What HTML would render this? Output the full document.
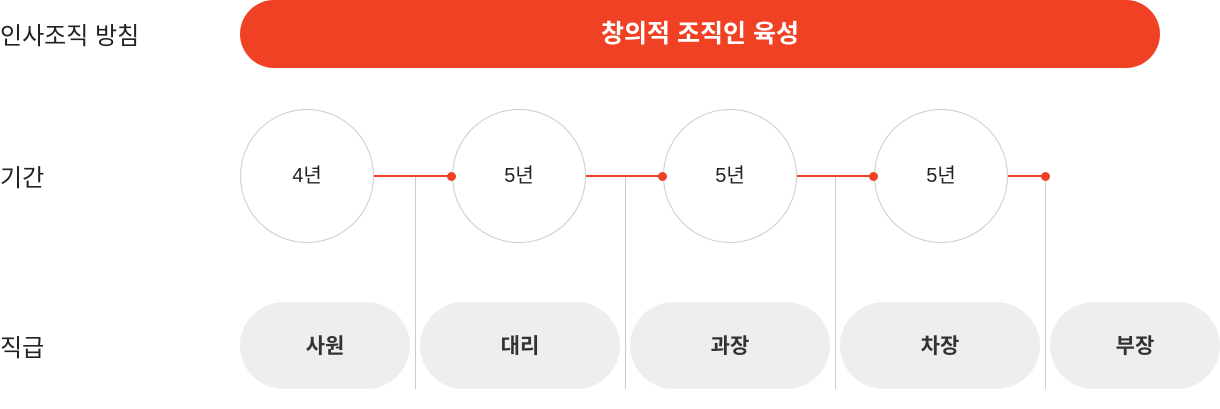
<!DOCTYPE html>
<html><head><meta charset="utf-8"><style>
body{margin:0;width:1220px;height:409px;background:#fff;position:relative;overflow:hidden;font-family:"Liberation Sans","Noto Sans CJK KR",sans-serif;color:#222}
.a{position:absolute}
.lab{font-size:24px;left:0}
.top{left:240px;top:0;width:920px;height:68px;border-radius:34px;background:#f04124;color:#fff;font-size:25px;font-weight:bold;text-align:center;line-height:68px}
.c{width:132px;height:132px;border:1px solid #ccc;border-radius:50%;top:109px;text-align:center;line-height:132px;font-size:20px;background:#fff}
.p{top:302px;height:87px;border-radius:44px;background:#eee;text-align:center;line-height:90px;font-size:21px;font-weight:bold;color:#333}
.r{height:2px;background:#f04124;top:175px}
.d{width:9px;height:9px;border-radius:50%;background:#f04124;top:172px}
.g{width:1px;background:#ccc;top:176px;height:213px}
</style></head><body>
<div class="a lab" style="top:16px">인사조직 방침</div>
<div class="a lab" style="top:158px">기간</div>
<div class="a lab" style="top:328px">직급</div>
<div class="a top">창의적 조직인 육성</div>
<div class="a g" style="left:415px"></div>
<div class="a g" style="left:625px"></div>
<div class="a g" style="left:835px"></div>
<div class="a g" style="left:1045px"></div>
<div class="a r" style="left:374px;width:78px"></div>
<div class="a r" style="left:586px;width:78px"></div>
<div class="a r" style="left:797px;width:78px"></div>
<div class="a r" style="left:1008px;width:38px"></div>
<div class="a c" style="left:240px">4년</div>
<div class="a c" style="left:452px">5년</div>
<div class="a c" style="left:663px">5년</div>
<div class="a c" style="left:874px">5년</div>
<div class="a d" style="left:447px"></div>
<div class="a d" style="left:658px"></div>
<div class="a d" style="left:869px"></div>
<div class="a d" style="left:1041px"></div>
<div class="a p" style="left:240px;width:170px">사원</div>
<div class="a p" style="left:420px;width:200px">대리</div>
<div class="a p" style="left:630px;width:200px">과장</div>
<div class="a p" style="left:840px;width:200px">차장</div>
<div class="a p" style="left:1050px;width:170px">부장</div>
</body></html>
